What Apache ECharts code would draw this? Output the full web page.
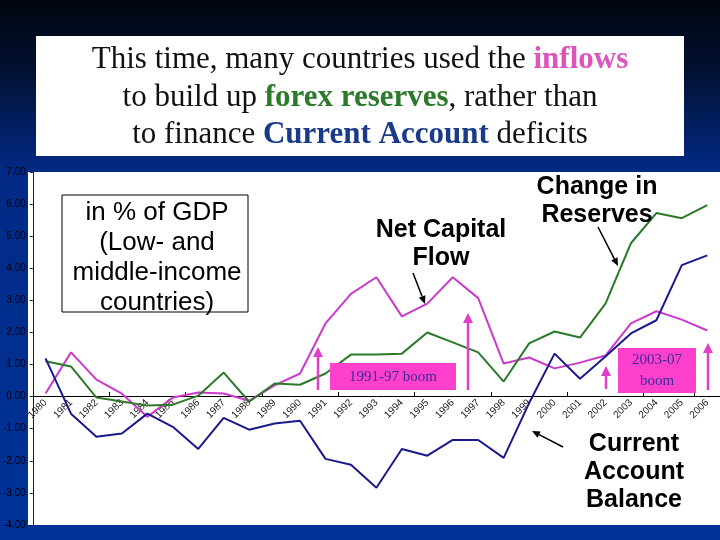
<!DOCTYPE html>
<html>
<head>
    <meta charset="utf-8" />
    <title>Capital flows</title>
    <script src="https://cdn.jsdelivr.net/npm/echarts@6/dist/echarts.min.js"></script>
    <style>
        html, body { margin: 0; padding: 0; }
        #main { width: 720px; height: 540px; }
    </style>
</head>
<body>
    <div id="main"></div>
    <script type="text/javascript">
        // years 1980 - 2006
        var years = ['1980','1981','1982','1983','1984','1985','1986','1987','1988','1989',
                     '1990','1991','1992','1993','1994','1995','1996','1997','1998','1999',
                     '2000','2001','2002','2003','2004','2005','2006'];
        // % of GDP
        var netCapitalFlow = [0.10, 1.38, 0.53, 0.09, -0.63, -0.03, 0.13, 0.10, -0.13, 0.35,
                              0.72, 2.28, 3.20, 3.72, 2.50, 2.90, 3.72, 3.07, 1.03, 1.22,
                              0.88, 1.06, 1.28, 2.28, 2.66, 2.40, 2.06];
        var changeInReserves = [1.10, 0.94, -0.03, -0.15, -0.28, -0.25, 0.03, 0.75, -0.16, 0.41,
                                0.37, 0.72, 1.31, 1.31, 1.34, 2.00, 1.69, 1.38, 0.47, 1.66,
                                2.03, 1.84, 2.90, 4.78, 5.72, 5.56, 5.97];
        var currentAccount = [1.19, -0.53, -1.25, -1.15, -0.53, -0.94, -1.63, -0.66, -1.03, -0.84,
                              -0.75, -1.94, -2.12, -2.84, -1.63, -1.84, -1.35, -1.35, -1.91, -0.20,
                              1.34, 0.56, 1.25, 1.97, 2.38, 4.10, 4.40];

        var chart = echarts.init(document.getElementById('main'));

        function arrow(x1, y1, x2, y2, color, w, hl, hw) {
            var dx = x2 - x1, dy = y2 - y1;
            var len = Math.sqrt(dx * dx + dy * dy);
            var ux = dx / len, uy = dy / len;
            var bx = x2 - ux * hl, by = y2 - uy * hl;
            return [{
                type: 'line', z: 50,
                shape: { x1: x1, y1: y1, x2: bx, y2: by },
                style: { stroke: color, lineWidth: w }
            }, {
                type: 'polygon', z: 50,
                shape: { points: [[x2, y2], [bx - uy * hw, by + ux * hw], [bx + uy * hw, by - ux * hw]] },
                style: { fill: color }
            }];
        }

        var pink = '#e03fc8';
        var titleRich = {
            n: { fontFamily: 'Liberation Serif', fontSize: 31, fill: '#111' },
            p: { fontFamily: 'Liberation Serif', fontSize: 31, fontWeight: 'bold', fill: '#dd55bb' },
            g: { fontFamily: 'Liberation Serif', fontSize: 31, fontWeight: 'bold', fill: '#2b7a2b' },
            b: { fontFamily: 'Liberation Serif', fontSize: 31, fontWeight: 'bold', fill: '#1a3a8a' }
        };
        var boldTxt = { fontFamily: 'Liberation Sans', fontSize: 25, fontWeight: 'bold', fill: '#000', align: 'center', verticalAlign: 'middle', lineHeight: 28 };

        var graphics = [
            // title box
            { type: 'rect', z: 1, shape: { x: 36, y: 36, width: 648, height: 120 }, style: { fill: '#fff' } },
            { type: 'text', z: 2, style: { x: 360, y: 60, align: 'center', verticalAlign: 'middle',
                text: '{n|This time, many countries used the }{p|inflows}', rich: titleRich } },
            { type: 'text', z: 2, style: { x: 360, y: 98, align: 'center', verticalAlign: 'middle',
                text: '{n|to build up }{g|forex reserves}{n|, rather than}', rich: titleRich } },
            { type: 'text', z: 2, style: { x: 360, y: 135, align: 'center', verticalAlign: 'middle',
                text: '{n|to finance }{b|Current Account}{n| deficits}', rich: titleRich } },
            // white chart panel
            { type: 'rect', z: -10, shape: { x: 28, y: 172, width: 692, height: 353 }, style: { fill: '#fff' } },
            // GDP box
            { type: 'rect', z: 40, shape: { x: 62, y: 195, width: 186, height: 117 }, style: { fill: '#fff', stroke: '#000', lineWidth: 1 } },
            { type: 'text', z: 41, style: { x: 157, y: 258, align: 'center', verticalAlign: 'middle', lineHeight: 30,
                text: 'in % of GDP\n(Low- and\nmiddle-income\ncountries)', fontFamily: 'Liberation Sans', fontSize: 26, fill: '#000' } },
            // labels
            { type: 'text', z: 45, style: Object.assign({ x: 441, y: 244, text: 'Net Capital\nFlow' }, boldTxt) },
            { type: 'text', z: 45, style: Object.assign({ x: 597, y: 201, text: 'Change in\nReserves' }, boldTxt) },
            { type: 'text', z: 45, style: Object.assign({ x: 634, y: 472, text: 'Current\nAccount\nBalance' }, boldTxt) },
            // boom boxes
            { type: 'rect', z: 40, shape: { x: 330, y: 363, width: 126, height: 27 }, style: { fill: '#ff40cc' } },
            { type: 'text', z: 41, style: { x: 393, y: 377, align: 'center', verticalAlign: 'middle', text: '1991-97 boom',
                fontFamily: 'Liberation Serif', fontSize: 15, fill: '#3a2a9a' } },
            { type: 'rect', z: 40, shape: { x: 618, y: 348, width: 78, height: 45 }, style: { fill: '#ff40cc' } },
            { type: 'text', z: 41, style: { x: 657, y: 371, align: 'center', verticalAlign: 'middle', lineHeight: 21, text: '2003-07\nboom',
                fontFamily: 'Liberation Serif', fontSize: 15, fill: '#3a2a9a' } }
        ];
        graphics = graphics
            .concat(arrow(413, 273, 425, 304, '#000', 1.5, 8, 3.5))
            .concat(arrow(598, 227, 618, 266, '#000', 1.5, 8, 3.5))
            .concat(arrow(563, 447, 532, 431, '#000', 1.5, 8, 3.5))
            .concat(arrow(318, 390, 318, 347, pink, 2.5, 10, 5))
            .concat(arrow(468, 390, 468, 313, pink, 2.5, 10, 5))
            .concat(arrow(606, 389, 606, 366, pink, 2.5, 10, 5))
            .concat(arrow(708, 390, 708, 343, pink, 2.5, 10, 5));

        var option = {
            animation: false,
            backgroundColor: new echarts.graphic.LinearGradient(0, 0, 0, 1, [
                { offset: 0, color: '#000510' },
                { offset: 0.12, color: '#02102e' },
                { offset: 0.32, color: '#022a86' },
                { offset: 1, color: '#003399' }
            ]),
            grid: { left: 27, right: -8, top: 172, bottom: 15, containLabel: false },
            xAxis: {
                type: 'category',
                data: years,
                boundaryGap: true,
                position: 'bottom',
                offset: -129,
                axisLine: { onZero: false, lineStyle: { color: '#000', width: 1 } },
                axisTick: { show: true, inside: true, interval: 2, length: 4, lineStyle: { color: '#000' } },
                axisLabel: { interval: 0, rotate: 45, fontSize: 10, fontFamily: 'Liberation Sans', color: '#222', margin: 5 },
                splitLine: { show: false }
            },
            yAxis: {
                type: 'value',
                min: -4, max: 7, interval: 1,
                axisLine: { show: true, lineStyle: { color: '#0a1a50' } },
                axisTick: { show: true, length: 3, lineStyle: { color: '#0a1a50' } },
                axisLabel: { fontSize: 10, fontFamily: 'Liberation Sans', color: '#000', margin: 7,
                    formatter: function (v) { return v.toFixed(2); } },
                splitLine: { show: false }
            },
            series: [{
                name: 'Net Capital Flow', type: 'line', data: netCapitalFlow,
                symbol: 'none', lineStyle: { color: '#cc3acc', width: 2 }, itemStyle: { color: '#cc3acc' }
            }, {
                name: 'Change in Reserves', type: 'line', data: changeInReserves,
                symbol: 'none', lineStyle: { color: '#2a7a2a', width: 2 }, itemStyle: { color: '#2a7a2a' }
            }, {
                name: 'Current Account Balance', type: 'line', data: currentAccount,
                symbol: 'none', lineStyle: { color: '#1a1a8c', width: 2 }, itemStyle: { color: '#1a1a8c' }
            }],
            graphic: graphics
        };
        chart.setOption(option);
    </script>
</body>
</html>
